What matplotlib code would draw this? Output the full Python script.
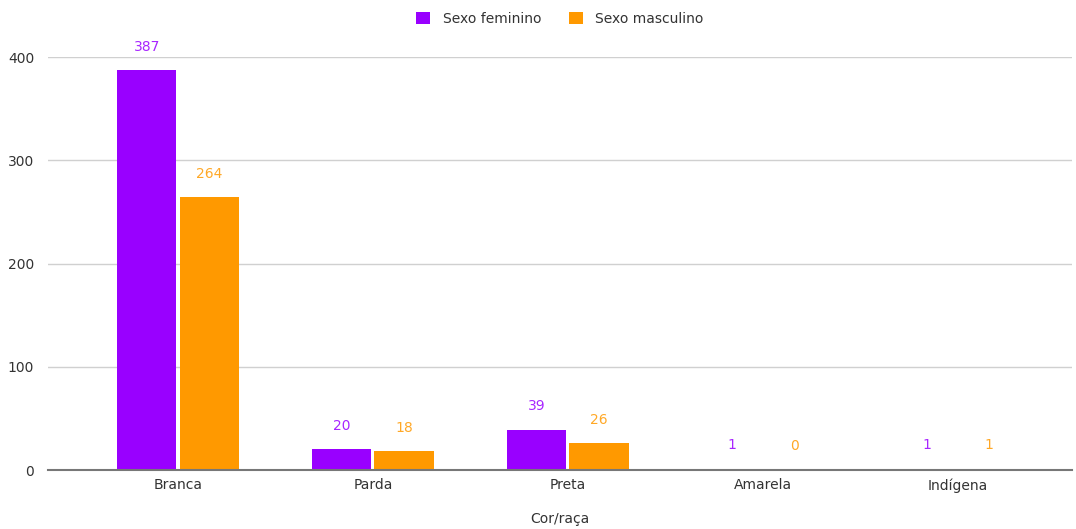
import matplotlib.pyplot as plt
import numpy as np

categorias = ['Branca', 'Parda', 'Preta', 'Amarela', 'Indígena']
feminino = [387, 20, 39, 1, 1]
masculino = [264, 18, 26, 0, 1]
yticks = [0, 100, 200, 300, 400]

roxo = '#9900ff'
laranja = '#ff9900'

fig = plt.figure(figsize=(10.76, 5.29), dpi=100)
ax = fig.add_axes([0.0446, 0.1115, 0.9514, 0.7807])

x = np.arange(len(categorias))
w = 0.305
b1 = ax.bar(x - w / 2 - 0.008, feminino, w, color=roxo, label='Sexo feminino', zorder=3)
b2 = ax.bar(x + w / 2 + 0.008, masculino, w, color=laranja, label='Sexo masculino', zorder=3)

for bars, vals, c in [(b1, feminino, roxo), (b2, masculino, laranja)]:
    for r, v in zip(bars, vals):
        ax.text(r.get_x() + r.get_width() / 2, v + 16, str(v), ha='center', va='bottom',
                color=c, fontsize=10, alpha=0.85, clip_on=False)

ax.set_xlim(-0.667, 4.585)
ax.set_ylim(0, 400)
ax.set_yticks(yticks)
ax.set_xticks(x)
ax.set_xticklabels(categorias)
ax.tick_params(length=0, labelsize=10, labelcolor='#333333')
ax.tick_params(axis='y', pad=10)
ax.tick_params(axis='x', pad=6)
ax.grid(axis='y', color='#d0d0d0', linewidth=1, zorder=0)
for s in ['top', 'right', 'left']:
    ax.spines[s].set_visible(False)
ax.spines['bottom'].set_color('#777777')
ax.spines['bottom'].set_linewidth(1.5)
ax.spines['bottom'].set_zorder(4)

ax.set_xlabel('Cor/raça', fontsize=10, color='#333333', labelpad=14)

ax.legend(loc='lower center', bbox_to_anchor=(0.5, 1.045), ncol=2, frameon=False,
          fontsize=10, labelcolor='#333333', handlelength=1.0, handleheight=1.0,
          columnspacing=2.0, handletextpad=0.9)

fig.savefig('out.png', dpi=100)
